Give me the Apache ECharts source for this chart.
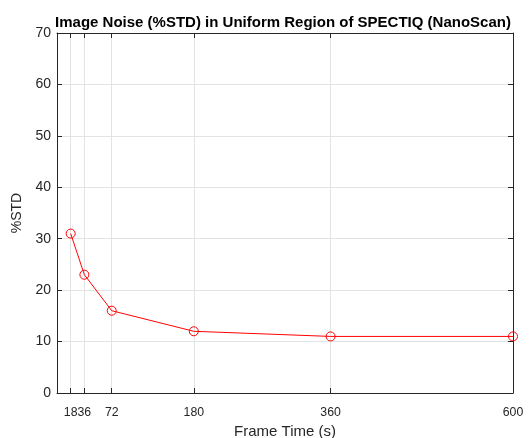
<!DOCTYPE html>
<html>
<head>
<meta charset="utf-8">
<script src="https://cdn.jsdelivr.net/npm/echarts@6/dist/echarts.min.js"></script>
<style>
  html, body { margin: 0; padding: 0; background: #fff; }
  #chart { width: 529px; height: 438px; }
</style>
</head>
<body>
<div id="chart"></div>
<script>
// Frame times (s) and measured noise (%STD)
const frameTimes = [18, 36, 72, 180, 360, 600];
const noiseStd = [31, 23, 16, 12, 11, 11];
const xTicks = [18, 36, 72, 180, 360, 600];
const yTicks = [0, 10, 20, 30, 40, 50, 60, 70];

const axisColor = '#262626';
const gridColor = '#e3e3e3';
const font = 'Liberation Sans, Arial, sans-serif';

const chart = echarts.init(document.getElementById('chart'), null, { renderer: 'canvas' });

const baseX = {
  type: 'value', min: 0, max: 600,
  axisLine: { show: true, onZero: false, lineStyle: { color: axisColor, width: 1 } },
  axisTick: { show: true, inside: true, length: 5, customValues: xTicks, lineStyle: { color: axisColor } },
  splitLine: { show: false },
};
const baseY = {
  type: 'value', min: 0, max: 70, interval: 10,
  axisLine: { show: true, onZero: false, lineStyle: { color: axisColor, width: 1 } },
  axisTick: { show: true, inside: true, length: 5, customValues: yTicks, lineStyle: { color: axisColor } },
  splitLine: { show: false },
};

chart.setOption({
  animation: false,
  title: {
    text: 'Image Noise (%STD) in Uniform Region of SPECTIQ (NanoScan)',
    left: 278, top: 10, textAlign: 'center',
    textStyle: { fontFamily: font, fontSize: 15, fontWeight: 'bold', color: '#000' }
  },
  grid: { left: 57, right: 16, top: 33, bottom: 45, containLabel: false, outerBoundsMode: 'none' },
  xAxis: [
    Object.assign({}, baseX, {
      position: 'bottom',
      name: 'Frame Time (s)', nameLocation: 'middle', nameGap: 30,
      nameTextStyle: { fontFamily: font, fontSize: 15, color: axisColor },
      axisLabel: {
        show: true, customValues: xTicks, margin: 14, hideOverlap: false,
        showMinLabel: true, showMaxLabel: true,
        fontFamily: font, fontSize: 12.3, color: axisColor
      },
      splitLine: { show: true, lineStyle: { color: gridColor, width: 1 } }
    }),
    Object.assign({}, baseX, { position: 'top', axisLabel: { show: false } })
  ],
  yAxis: [
    Object.assign({}, baseY, {
      position: 'left',
      name: '%STD', nameLocation: 'middle', nameGap: 26,
      nameTextStyle: { fontFamily: font, fontSize: 14, color: axisColor },
      axisLabel: {
        show: true, customValues: yTicks, margin: 6, hideOverlap: false,
        showMinLabel: true, showMaxLabel: true,
        fontFamily: font, fontSize: 14, color: axisColor
      },
      splitLine: { show: true, lineStyle: { color: gridColor, width: 1 } }
    }),
    Object.assign({}, baseY, { position: 'right', axisLabel: { show: false } })
  ],
  series: [{
    type: 'line',
    xAxisIndex: 0, yAxisIndex: 0,
    data: frameTimes.map((t, i) => [t, noiseStd[i]]),
    symbol: 'circle', symbolSize: 9,
    lineStyle: { color: '#ff0000', width: 1 },
    itemStyle: { color: 'rgba(0,0,0,0)', borderColor: '#ff0000', borderWidth: 1 },
    emphasis: { disabled: true }
  }]
});
</script>
</body>
</html>
